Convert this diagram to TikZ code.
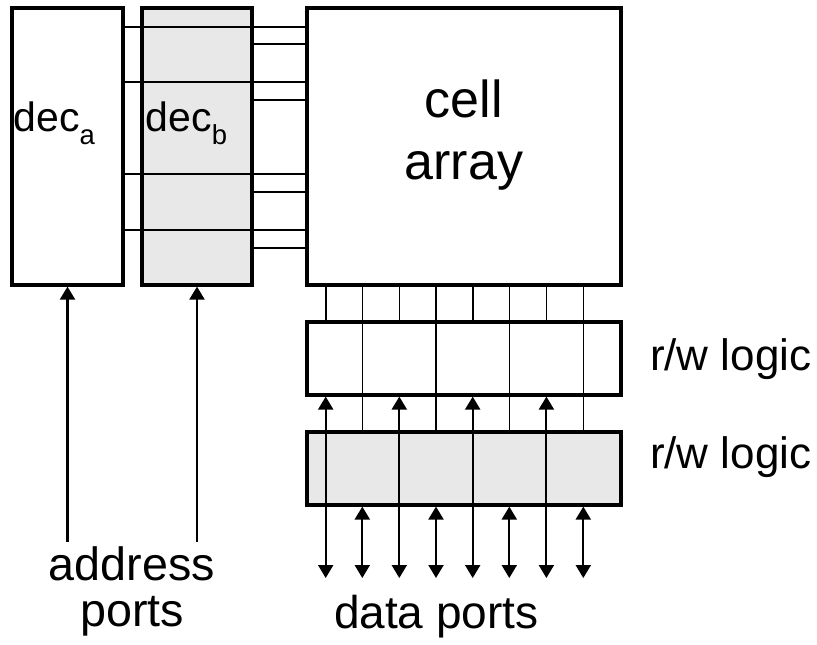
\documentclass[tikz,border=0pt]{standalone}
\usepackage{fontspec}
\setmainfont{Liberation Sans}
\usetikzlibrary{arrows.meta,fit}
\definecolor{boxgray}{RGB}{232,232,232}
\begin{document}
\begin{tikzpicture}[x=0.75pt,y=-0.75pt,
  blockbox/.style={draw=black,line width=2.4pt,inner sep=0pt,fill=white},
  grayblock/.style={blockbox,fill=boxgray},
  wire/.style={line width=1.2pt},
  tipA/.tip={Triangle[length=9.75pt,width=11.25pt]},
  uparrow/.style={line width=1.6pt,-tipA},
  bothway/.style={line width=1.6pt,tipA-tipA},
  lbl/.style={inner sep=0pt,outer sep=0pt}]
\useasboundingbox (0,0) rectangle (817,644);
% blocks
\node[blockbox,fit={(12,8) (123,285)}] (deca) {};
\node[grayblock,fit={(142,8) (252,285)}] (decb) {};
\node[blockbox,fit={(307,8) (621,285)}] (cell) {};
\node[blockbox,fit={(307,322) (621,395)}] (rwA) {};
\node[grayblock,fit={(307,432) (621,505)}] (rwB) {};
% word lines
\foreach \y in {27,82,174,230}{
  \coordinate (wa) at (0,\y);
  \draw[wire] (deca.east |- wa) -- (cell.west |- wa);
}
\foreach \y in {44,100,192,248}{
  \coordinate (wb) at (0,\y);
  \draw[wire] (decb.east |- wb) -- (cell.west |- wb);
}
% bit lines and data ports
\foreach \x in {325.7,399.3,472.7,546.4}{
  \coordinate (po) at (\x,578);
  \draw[wire] (cell.south -| po) -- (rwA.north -| po);
  \draw[bothway] (po) -- (po |- rwA.south);
}
\foreach \x in {362.3,436,509.3,583.3}{
  \coordinate (pe) at (\x,578);
  \draw[wire] (cell.south -| pe) -- (rwB.north -| pe);
  \draw[bothway] (pe) -- (pe |- rwB.south);
}
% address ports
\coordinate (adra) at (67.5,542);
\coordinate (adrb) at (197,542);
\draw[uparrow] (adra) -- (deca.south);
\draw[uparrow] (adrb) -- (decb.south);
% labels
\node[lbl,anchor=base west,font=\fontsize{30.75}{30.75}\selectfont] (ta) at (13.5,131.7) {dec\raisebox{-9.45pt}{\fontsize{20.6}{20.6}\selectfont a}};
\node[lbl,anchor=base west,font=\fontsize{30.75}{30.75}\selectfont] (tb) at (145.8,131.7) {dec\raisebox{-9.45pt}{\fontsize{20.6}{20.6}\selectfont b}};
\node[lbl,align=center,font=\fontsize{39}{46.5}\selectfont] (tc) at (464,135.5) {cell\\array};
\node[lbl,anchor=base west,font=\fontsize{33}{33}\selectfont] (tr1) at (650,370) {r/w logic};
\node[lbl,anchor=base west,font=\fontsize{33}{33}\selectfont] (tr2) at (650,468) {r/w logic};
\node[lbl,align=center,font=\fontsize{35}{34.5}\selectfont] (tad) at (132,591.5) {address\\ports};
\node[lbl,anchor=base,font=\fontsize{34.5}{34.5}\selectfont] (tdp) at (436.3,628.3) {data ports};
\end{tikzpicture}
\end{document}
